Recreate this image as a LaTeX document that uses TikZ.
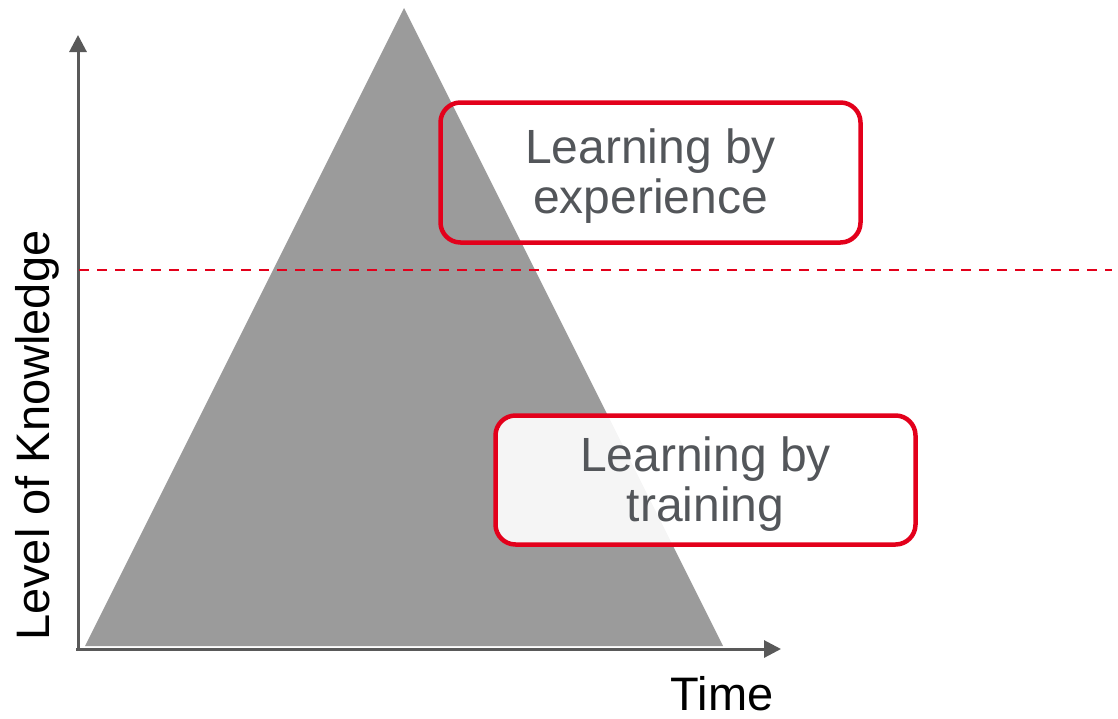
\documentclass[tikz,border=0pt]{standalone}
\usepackage{fontspec}
\setmainfont{Liberation Sans}
\usetikzlibrary{arrows.meta}
\definecolor{axisgray}{HTML}{595959}
\definecolor{trigray}{HTML}{9B9B9B}
\definecolor{boxred}{HTML}{E3001B}
\definecolor{textgray}{HTML}{53565A}
\begin{document}
\begin{tikzpicture}[x=1pt,y=-1pt,
  labelbox/.style={draw=boxred,line width=4.5pt,rounded corners=20pt,minimum width=420pt},
  boxtext/.style={text=textgray,font=\fontsize{48}{50}\selectfont,align=center,inner sep=0pt},
  axis/.style={draw=axisgray,line width=3pt,-{Triangle[width=17pt,length=17pt]}}]
\useasboundingbox (0,0) rectangle (1118,718);
\fill[trigray] (85,646) -- (404,8) -- (723,646) -- cycle;
\coordinate (ybase) at (78,651);
\coordinate (xbase) at (76,649);
\coordinate (ytip) at (78,35);
\coordinate (xtip) at (781,649);
\draw[axis] (ybase) -- (ytip);
\draw[axis] (xbase) -- (xtip);
\coordinate (dl) at (79,270);
\coordinate (dr) at (1112,270);
\draw[boxred,line width=2.6pt,dash pattern=on 10pt off 8pt] (dl) -- (dr);
\node[labelbox,minimum height=140pt] (exp) at (650.5,172.5) {};
\node[boxtext] (exptext) at (650.5,176) {Learning by\\experience};
\node[labelbox,fill=white,fill opacity=0.9,minimum height=129pt] (trn) at (705.5,480) {};
\node[boxtext] (trntext) at (705.5,484) {Learning by\\training};
\node[font=\fontsize{47}{50}\selectfont,anchor=base,inner sep=0pt,text depth=0pt] (time) at (722,710) {Time};
\node[font=\fontsize{47}{50}\selectfont,rotate=90,anchor=base west,inner sep=0pt] (lok) at (49,641) {Level of Knowledge};
\end{tikzpicture}
\end{document}
